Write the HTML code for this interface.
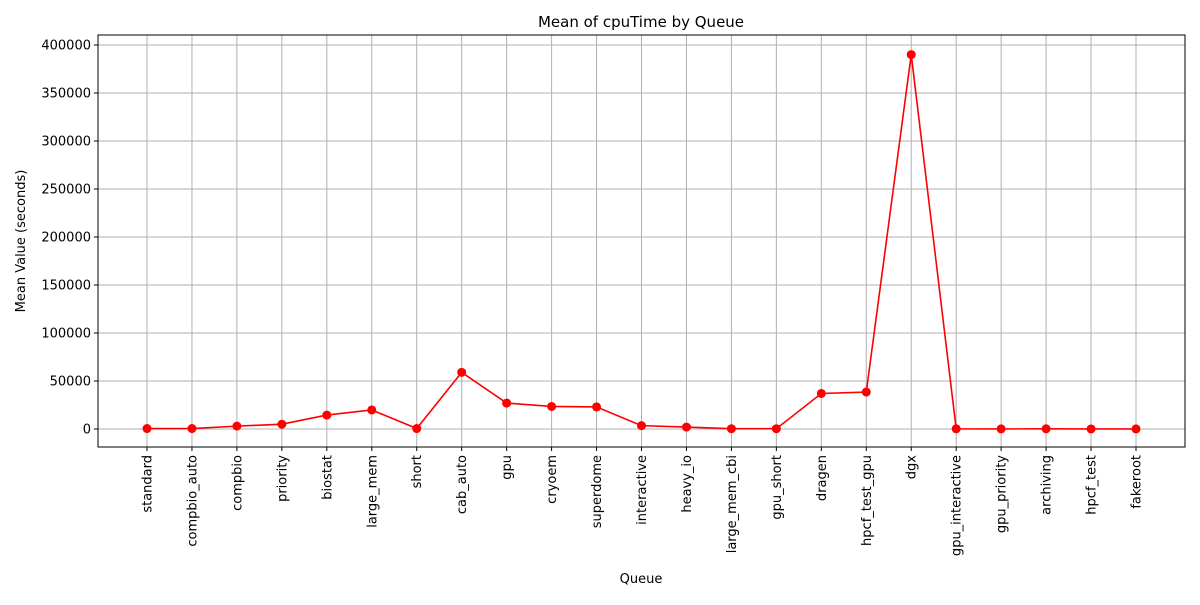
<!DOCTYPE html>
<html><head><meta charset="utf-8">
<style>
body{margin:0;background:#fff;font-family:"Liberation Sans","DejaVu Sans",sans-serif;}
svg text{font-family:"DejaVu Sans","Liberation Sans",sans-serif;}
</style></head>
<body>
<svg id="chart" width="1200" height="600" xmlns="http://www.w3.org/2000/svg">
<rect width="1200" height="600" fill="#fff"/>
<text x="641" y="27" text-anchor="middle" font-size="15">Mean of cpuTime by Queue</text>
<g id="grid"></g>
<g id="axes"></g>
<g id="series"></g>
<rect x="98" y="35" width="1087" height="412" fill="none" stroke="#000" stroke-width="1"/>
<text x="641" y="583" text-anchor="middle" font-size="13">Queue</text>
<text transform="translate(25,241) rotate(-90)" text-anchor="middle" font-size="13">Mean Value (seconds)</text>
</svg>
<script>
const categories=["standard","compbio_auto","compbio","priority","biostat","large_mem","short","cab_auto","gpu","cryoem","superdome","interactive","heavy_io","large_mem_cbi","gpu_short","dragen","hpcf_test_gpu","dgx","gpu_interactive","gpu_priority","archiving","hpcf_test","fakeroot"];
const values=[500,500,3000,5000,14500,19800,500,59000,27000,23500,23000,3500,2000,300,300,37000,38500,390000,200,100,200,50,100];
const yTicks=[0,50000,100000,150000,200000,250000,300000,350000,400000];
const NS="http://www.w3.org/2000/svg";
const x0=147,x1=1136,yz=429,y400=45;
function xs(i){return x0+(x1-x0)*i/(categories.length-1);}
function ys(v){return yz+(y400-yz)*v/400000;}
function mk(tag,attrs,parent){const e=document.createElementNS(NS,tag);for(const k in attrs)e.setAttribute(k,attrs[k]);parent.appendChild(e);return e;}
const grid=document.getElementById('grid'),axes=document.getElementById('axes'),ser=document.getElementById('series');
yTicks.forEach(t=>{const y=ys(t);
 const g=mk('line',{x1:98,x2:1185,y1:y,y2:y,stroke:'#b0b0b0','stroke-width':1},grid);
 
 
 mk('line',{x1:94,x2:98,y1:y,y2:y,stroke:'#000'},axes);
 const tx=mk('text',{x:91,y:y+4.5,'text-anchor':'end','font-size':13},axes);tx.textContent=t;
 
 
});
categories.forEach((c,i)=>{const x=xs(i);
 const g=mk('line',{x1:x,x2:x,y1:35,y2:447,stroke:'#b0b0b0','stroke-width':1},grid);
 
 
 mk('line',{x1:x,x2:x,y1:447,y2:451,stroke:'#000'},axes);
 const tx=mk('text',{transform:`translate(${x+4.5},455) rotate(-90)`,'text-anchor':'end','font-size':13},axes);tx.textContent=c;
 
 
});
const pts=values.map((v,i)=>xs(i)+','+ys(v)).join(' ');
const pl=mk('polyline',{points:pts,fill:'none',stroke:'red','stroke-width':1.6},ser);


values.forEach((v,i)=>{const c=mk('circle',{cx:xs(i),cy:ys(v),r:4.5,fill:'red'},ser);
 
 
});
</script>
</body></html>
